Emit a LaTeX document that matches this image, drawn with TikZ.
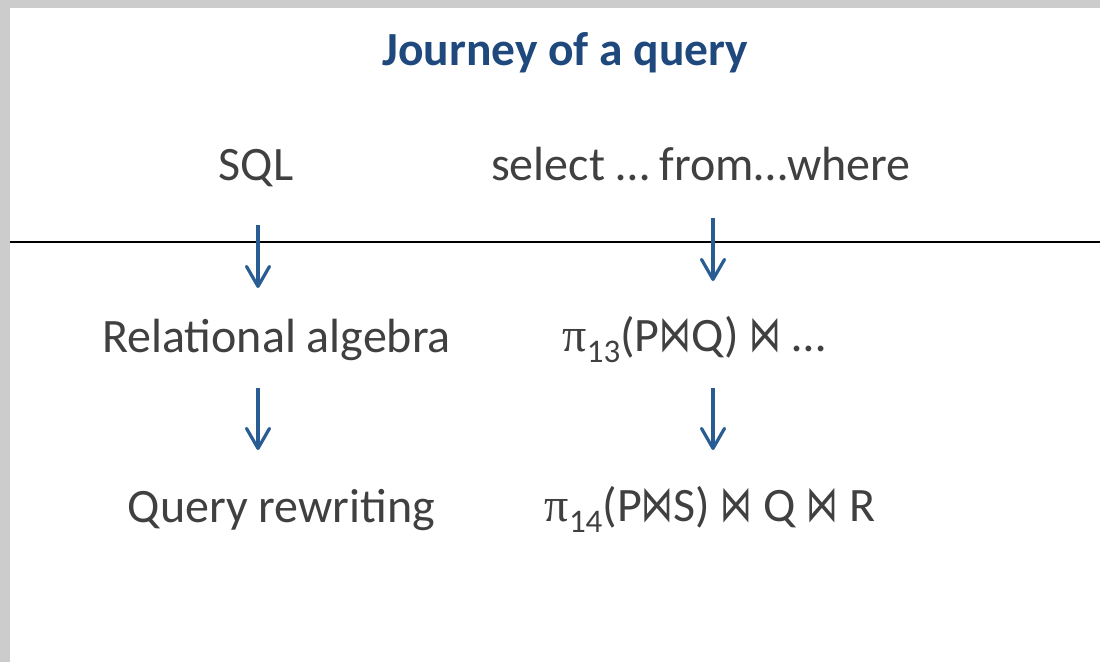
\documentclass[tikz,border=0pt]{standalone}
\usepackage{fontspec}
\setmainfont{Carlito}
\newfontfamily\symf{DejaVu Sans}
\newfontfamily\grk{Liberation Serif}
\usetikzlibrary{arrows.meta}
\definecolor{titleblue}{RGB}{31,73,125}
\definecolor{arrowblue}{RGB}{40,92,146}
\definecolor{txtgray}{RGB}{64,64,64}
\definecolor{framegray}{RGB}{204,204,204}
\newcommand{\bt}{\scalebox{0.66}[1.05]{\symf ⋈}}
\newcommand{\pisub}[1]{{\grk π}\raisebox{-11pt}{\fontsize{33}{33}\selectfont #1}}
\tikzset{
  lbl/.style={anchor=base, inner sep=0pt, text=txtgray, font=\fontsize{48}{52}\selectfont},
  ttl/.style={anchor=base, inner sep=0pt, text=titleblue, font=\fontsize{47.5}{52}\selectfont\bfseries},
  flow/.style={draw=arrowblue, line width=3.2pt, -{Straight Barb[length=20pt,width=23pt,line cap=round,line join=round]}}
}
\begin{document}
\begin{tikzpicture}[x=1pt,y=-1pt]
\useasboundingbox (0,0) rectangle (1100,662);
\fill[framegray] (0,0) rectangle (1100,662);
\fill[white] (10,8) rectangle (1100,662);
\node[ttl] (title) at (565.5,65) {Journey of a query};
\node[lbl] (sql) at (256,180) {SQL};
\node[lbl] (sel) at (701,180) {select … from…where};
\node[lbl] (ra) at (276.5,352) {Relational algebra};
\node[lbl] (ex1) at (694,351) {\pisub{13}(P\bt Q) \bt\ …};
\node[lbl] (qr) at (281.5,522) {Query rewriting};
\node[lbl] (ex2) at (710,521) {\pisub{14}(P\bt S) \bt\ Q \bt\ R};
\coordinate (hl) at (10,242);
\coordinate (hr) at (1100,242);
\draw[line width=2pt, black] (hl) -- (hr);
\coordinate (a1s) at (258,225);
\coordinate (a1e) at (258,288);
\coordinate (a2s) at (713,218);
\coordinate (a2e) at (713,281);
\coordinate (a3s) at (258,388);
\coordinate (a3e) at (258,450);
\coordinate (a4s) at (713,388);
\coordinate (a4e) at (713,450);
\draw[flow] (a1s) -- (a1e);
\draw[flow] (a2s) -- (a2e);
\draw[flow] (a3s) -- (a3e);
\draw[flow] (a4s) -- (a4e);
\end{tikzpicture}
\end{document}
